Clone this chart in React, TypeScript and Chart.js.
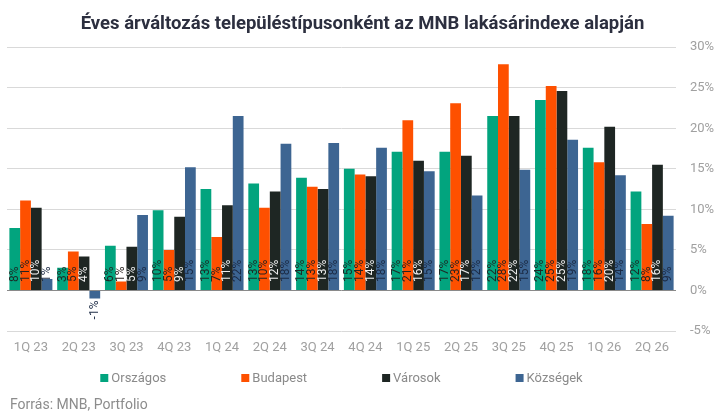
import React, { useEffect, useRef } from "react";
import { Chart, registerables } from "chart.js";

Chart.register(...registerables);

const TITLE = "Éves árváltozás településtípusonként az MNB lakásárindexe alapján";
const SOURCE = "Forrás: MNB, Portfolio";

const categories = [
  "1Q 23", "2Q 23", "3Q 23", "4Q 23", "1Q 24", "2Q 24", "3Q 24",
  "4Q 24", "1Q 25", "2Q 25", "3Q 25", "4Q 25", "1Q 26", "2Q 26",
];

const orszagos = [7.7, 2.8, 5.5, 9.9, 12.5, 13.2, 13.9, 15.0, 17.1, 17.1, 21.5, 23.5, 17.6, 12.2];
const budapest = [11.1, 4.8, 1.1, 5.0, 6.6, 10.2, 12.8, 14.3, 21.0, 23.1, 27.9, 25.2, 15.8, 8.2];
const varosok = [10.2, 4.2, 5.4, 9.1, 10.5, 12.2, 12.5, 14.1, 16.0, 16.6, 21.5, 24.6, 20.2, 15.5];
const kozsegek = [1.4, -1.0, 9.3, 15.2, 21.5, 18.1, 18.2, 17.6, 14.7, 11.7, 14.9, 18.6, 14.2, 9.2];

const seriesNames = ["Országos", "Budapest", "Városok", "Községek"];
const seriesColors = ["#02a47e", "#fe5000", "#1e2623", "#3d6592"];
const labelColors = ["#1c2a26", "#2a2320", "#eeeeee", "#1b2a44"];

const yTicks = [-5, 0, 5, 10, 15, 20, 25, 30];

const FONT = "Roboto";

const barLabelPlugin = {
  id: "barLabels",
  afterDatasetsDraw(chart: any) {
    const ctx = chart.ctx;
    ctx.save();
    ctx.font = `12px ${FONT}`;
    ctx.textBaseline = "middle";
    chart.data.datasets.forEach((ds: any, di: number) => {
      const meta = chart.getDatasetMeta(di);
      meta.data.forEach((el: any, i: number) => {
        const v = ds.data[i] as number;
        const text = `${Math.round(v)}%`;
        ctx.save();
        ctx.fillStyle = labelColors[di];
        if (v >= 0) {
          ctx.translate(el.x, el.base - 8);
          ctx.rotate(-Math.PI / 2);
          ctx.textAlign = "left";
        } else {
          ctx.translate(el.x, el.y + 2);
          ctx.rotate(-Math.PI / 2);
          ctx.textAlign = "right";
        }
        ctx.fillText(text, 0, 0);
        ctx.restore();
      });
    });
    ctx.restore();
  },
};

const legendSourcePlugin = {
  id: "legendSource",
  afterDraw(chart: any) {
    const ctx = chart.ctx;
    const area = chart.chartArea;
    ctx.save();
    ctx.font = `13px ${FONT}`;
    const box = 8;
    const boxGap = 3;
    const itemGap = 75;
    const ds = chart.data.datasets;
    const widths = ds.map((d: any) => box + boxGap + ctx.measureText(d.label).width);
    const total = widths.reduce((a: number, b: number) => a + b, 0) + itemGap * (ds.length - 1);
    let x = (area.left + area.right) / 2 - total / 2;
    const cy = 378;
    ctx.textBaseline = "middle";
    ctx.textAlign = "left";
    ds.forEach((d: any, i: number) => {
      ctx.fillStyle = d.backgroundColor;
      ctx.fillRect(x, cy - box / 2, box, box);
      ctx.fillStyle = "#8a8a8a";
      ctx.fillText(d.label, x + box + boxGap, cy + 0.5);
      x += widths[i] + itemGap;
    });
    ctx.font = `14px ${FONT}`;
    ctx.fillStyle = "#8c8c8c";
    ctx.fillText(SOURCE, 10, 405);
    ctx.restore();
  },
};

export default function App() {
  const canvasRef = useRef<HTMLCanvasElement | null>(null);

  useEffect(() => {
    document.body.style.margin = "0";
    const canvas = canvasRef.current;
    if (!canvas) return;
    const data = [orszagos, budapest, varosok, kozsegek];
    const chart = new Chart(canvas, {
      type: "bar",
      data: {
        labels: categories,
        datasets: data.map((d, i) => ({
          label: seriesNames[i],
          data: d,
          backgroundColor: seriesColors[i],
          borderWidth: 0,
          categoryPercentage: 0.9,
          barPercentage: 1.0,
        })),
      },
      options: {
        animation: false,
        responsive: false,
        maintainAspectRatio: false,
        layout: { padding: { left: 7, right: 0, top: 0, bottom: 63 } },
        plugins: {
          legend: { display: false },
          tooltip: { enabled: false },
          title: {
            display: true,
            text: TITLE,
            color: "#2c2f3f",
            font: { family: FONT, size: 18.5, weight: "bold" },
            padding: { top: 13, bottom: 12 },
          },
        },
        scales: {
          x: {
            grid: { display: false, drawTicks: false },
            border: { display: false },
            afterFit: (scale: any) => {
              scale.height = 25;
            },
            ticks: {
              color: "#a0a0a0",
              font: { family: FONT, size: 13 },
              padding: 9,
              maxRotation: 0,
              autoSkip: false,
            },
          },
          y: {
            position: "right",
            min: yTicks[0],
            max: yTicks[yTicks.length - 1],
            afterBuildTicks: (scale: any) => {
              scale.ticks = yTicks.map((v) => ({ value: v }));
            },
            afterFit: (scale: any) => {
              scale.width = 42;
            },
            grid: {
              color: (c: any) => (c.tick && c.tick.value === 0 ? "#8a8a8a" : "#d9d9d9"),
              drawTicks: false,
            },
            border: { display: false },
            ticks: {
              color: "#a0a0a0",
              font: { family: FONT, size: 13 },
              padding: 14,
              callback: (v: any) => `${v}%`,
            },
          },
        },
      },
      plugins: [barLabelPlugin, legendSourcePlugin],
    });
    return () => chart.destroy();
  }, []);

  return (
    <div style={{ position: "absolute", left: 0, top: 0, width: 718, height: 419, background: "#ffffff" }}>
      <canvas ref={canvasRef} width={718} height={419} style={{ width: 718, height: 419, display: "block" }} />
    </div>
  );
}
